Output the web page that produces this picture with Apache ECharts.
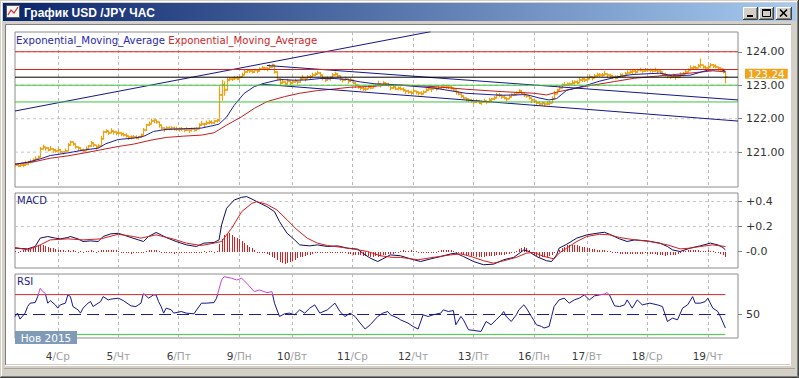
<!DOCTYPE html>
<html><head><meta charset="utf-8">
<script src="https://cdn.jsdelivr.net/npm/echarts@6/dist/echarts.min.js"></script>
<style>html,body{margin:0;padding:0;background:#ffffff;}#c{width:799px;height:378px;}</style>
</head><body><div id="c"></div>
<script>
const windowTitle = 'График USD /JPY ЧАС';
const emaLegend = ['Exponential_Moving_Average', 'Exponential_Moving_Average'];
const macdTitle = 'MACD';
const rsiTitle = 'RSI';
const monthLabel = 'Нов 2015';
const dayLabels = ['4/Ср','5/Чт','6/Пт','9/Пн','10/Вт','11/Ср','12/Чт','13/Пт','16/Пн','17/Вт','18/Ср','19/Чт'];
const dayStarts = [17,41,65,89,110,134,158,182,206,227,251,275];
const barSlots = 288;
const priceTicks = [121,122,123,124];
const macdTicks = [0,0.2,0.4];
const macdTickLabels = ['-0.0','+0.2','+0.4'];
const rsiTicks = [50];
const rsiOver = 70, rsiMid = 50, rsiUnder = 30;
const firstOpen = 120.64;

const priceClose = [120.62,120.60,120.63,120.61,120.66,120.70,120.72,120.76,120.80,120.86,
121.10,121.15,121.12,121.08,121.10,121.06,121.04,121.08,121.02,121.00,
121.05,121.20,121.30,121.25,121.15,121.12,121.08,121.05,121.10,121.18,
121.28,121.20,121.15,121.18,121.40,121.60,121.62,121.58,121.64,121.60,
121.57,121.58,121.55,121.52,121.48,121.45,121.44,121.46,121.43,121.45,
121.50,121.65,121.80,121.85,121.92,121.95,121.90,121.80,121.72,121.68,
121.72,121.70,121.73,121.70,121.68,121.70,121.69,121.66,121.67,121.65,
121.68,121.66,121.70,121.80,121.85,121.83,121.88,121.90,121.88,121.92,
121.95,122.70,123.00,122.85,123.15,123.20,123.18,123.22,123.20,123.25,
123.32,123.40,123.45,123.42,123.40,123.45,123.42,123.48,123.50,123.52,
123.48,123.55,123.60,123.40,123.20,123.08,123.10,123.05,123.12,123.08,
123.10,123.12,123.10,123.18,123.22,123.20,123.24,123.25,123.30,123.35,
123.38,123.30,123.22,123.15,123.18,123.22,123.30,123.35,123.28,123.20,
123.15,123.18,123.12,123.15,123.08,123.00,122.95,122.92,122.88,122.90,
122.95,122.93,122.98,123.00,123.05,123.02,123.06,123.04,123.00,122.92,
122.95,122.90,122.92,122.90,122.85,122.82,122.80,122.78,122.82,122.80,
122.76,122.74,122.80,122.85,122.90,122.88,122.92,122.90,122.93,122.95,
122.97,122.94,122.96,122.92,122.85,122.80,122.75,122.68,122.62,122.58,
122.55,122.52,122.50,122.52,122.48,122.50,122.53,122.50,122.55,122.58,
122.62,122.70,122.72,122.65,122.62,122.60,122.65,122.70,122.72,122.78,
122.82,122.78,122.72,122.68,122.62,122.55,122.52,122.48,122.45,122.47,
122.43,122.45,122.48,122.60,122.75,122.85,122.92,123.00,123.02,123.05,
123.03,123.08,123.10,123.08,123.15,123.18,123.15,123.20,123.25,123.22,
123.28,123.30,123.32,123.30,123.34,123.30,123.28,123.25,123.22,123.26,
123.30,123.28,123.35,123.38,123.40,123.42,123.40,123.44,123.45,123.43,
123.46,123.44,123.45,123.43,123.44,123.42,123.40,123.35,123.30,123.28,
123.25,123.27,123.24,123.26,123.30,123.35,123.40,123.45,123.52,123.55,
123.52,123.56,123.60,123.55,123.50,123.55,123.60,123.58,123.55,123.50,
123.48,123.40,123.24];

const priceHigh = [120.66,120.66,120.66,120.66,120.73,120.73,120.77,120.80,120.86,120.88,
121.14,121.21,121.15,121.13,121.17,121.09,121.09,121.12,121.08,121.02,
121.09,121.26,121.33,121.30,121.22,121.15,121.13,121.09,121.16,121.20,
121.32,121.26,121.18,121.23,121.47,121.63,121.67,121.62,121.70,121.62,
121.61,121.64,121.58,121.57,121.55,121.48,121.49,121.50,121.49,121.47,
121.54,121.71,121.83,121.90,121.99,121.98,121.95,121.84,121.78,121.70,
121.76,121.76,121.76,121.75,121.75,121.73,121.74,121.70,121.73,121.67,
121.72,121.72,121.73,121.85,121.92,121.86,121.93,121.94,121.94,121.94,
121.99,122.95,123.15,123.10,123.22,123.23,123.23,123.26,123.26,123.27,
123.36,123.46,123.48,123.47,123.47,123.48,123.47,123.52,123.56,123.54,
123.52,123.61,123.63,123.45,123.27,123.11,123.15,123.09,123.18,123.10,
123.14,123.18,123.13,123.23,123.29,123.23,123.29,123.29,123.36,123.37,
123.42,123.36,123.25,123.20,123.25,123.25,123.35,123.39,123.34,123.22,
123.19,123.24,123.15,123.20,123.15,123.03,123.00,122.96,122.94,122.92,
122.99,122.99,123.01,123.05,123.12,123.05,123.11,123.08,123.06,122.94,
122.99,122.96,122.95,122.95,122.92,122.85,122.85,122.82,122.88,122.82,
122.80,122.80,122.83,122.90,122.97,122.91,122.97,122.94,122.99,122.97,
123.01,123.00,122.99,122.97,122.92,122.83,122.80,122.72,122.68,122.60,
122.59,122.58,122.53,122.57,122.55,122.53,122.58,122.54,122.61,122.60,
122.66,122.76,122.75,122.70,122.69,122.63,122.70,122.74,122.78,122.80,
122.86,122.84,122.75,122.73,122.69,122.58,122.57,122.52,122.51,122.49,
122.47,122.51,122.51,122.65,122.82,122.88,122.97,123.04,123.08,123.07,
123.07,123.14,123.13,123.13,123.22,123.21,123.20,123.24,123.31,123.24,
123.32,123.36,123.35,123.35,123.41,123.33,123.33,123.29,123.28,123.28,
123.34,123.34,123.38,123.43,123.47,123.45,123.45,123.48,123.51,123.45,
123.50,123.50,123.48,123.48,123.51,123.45,123.45,123.39,123.36,123.30,
123.29,123.33,123.27,123.31,123.37,123.38,123.45,123.49,123.58,123.57,
123.56,123.62,123.78,123.60,123.57,123.58,123.65,123.62,123.61,123.52,
123.52,123.46,123.27];

const priceLow = [120.57,120.57,120.57,120.57,120.63,120.63,120.68,120.71,120.77,120.80,
121.05,121.12,121.06,121.04,121.07,120.99,121.00,121.03,120.99,120.94,
121.00,121.17,121.24,121.21,121.12,121.05,121.04,121.00,121.07,121.12,
121.23,121.17,121.09,121.14,121.37,121.53,121.58,121.53,121.61,121.54,
121.52,121.55,121.49,121.48,121.45,121.38,121.40,121.41,121.40,121.39,
121.45,121.62,121.74,121.81,121.89,121.88,121.86,121.75,121.69,121.62,
121.67,121.67,121.67,121.66,121.65,121.63,121.65,121.61,121.64,121.59,
121.63,121.63,121.64,121.76,121.82,121.76,121.84,121.85,121.85,121.86,
121.90,121.92,122.55,122.70,123.12,123.13,123.14,123.17,123.17,123.19,
123.27,123.37,123.39,123.38,123.37,123.38,123.38,123.43,123.47,123.46,
123.43,123.52,123.54,123.36,123.17,123.01,123.06,123.00,123.09,123.02,
123.05,123.09,123.04,123.14,123.19,123.13,123.20,123.20,123.27,123.29,
123.33,123.27,123.16,123.11,123.15,123.15,123.26,123.30,123.25,123.14,
123.10,123.15,123.06,123.11,123.05,122.93,122.91,122.87,122.85,122.84,
122.90,122.90,122.92,122.96,123.02,122.95,123.02,122.99,122.97,122.86,
122.90,122.87,122.86,122.86,122.82,122.75,122.76,122.73,122.79,122.74,
122.71,122.71,122.74,122.81,122.87,122.81,122.88,122.85,122.90,122.89,
122.92,122.91,122.90,122.88,122.82,122.73,122.71,122.63,122.59,122.52,
122.50,122.49,122.44,122.48,122.45,122.43,122.49,122.45,122.52,122.52,
122.57,122.67,122.66,122.61,122.59,122.53,122.61,122.65,122.69,122.72,
122.77,122.75,122.66,122.64,122.59,122.48,122.48,122.43,122.42,122.41,
122.38,122.42,122.42,122.56,122.72,122.78,122.88,122.95,122.99,122.99,
122.98,123.05,123.04,123.04,123.12,123.11,123.11,123.15,123.22,123.16,
123.23,123.27,123.26,123.26,123.31,123.23,123.24,123.20,123.19,123.20,
123.25,123.25,123.29,123.34,123.37,123.35,123.36,123.39,123.42,123.37,
123.41,123.41,123.39,123.39,123.41,123.35,123.36,123.30,123.27,123.22,
123.20,123.24,123.18,123.22,123.27,123.28,123.36,123.40,123.49,123.49,
123.47,123.53,123.54,123.51,123.47,123.48,123.56,123.53,123.52,123.44,
123.43,123.37,123.07];

const emaFast = [[0,120.64],[5,120.70],[10,120.80],[14,120.90],[21,120.98],[27,121.06],[33,121.12],[36,121.25],[41,121.38],[47,121.42],[51,121.47],[55,121.62],[60,121.68],[67,121.70],[74,121.72],[79,121.80],[81,121.84],[84,122.05],[87,122.40],[91,122.76],[95,122.96],[99,123.06],[104,123.15],[106,123.17],[111,123.15],[116,123.16],[121,123.20],[127,123.20],[132,123.17],[137,123.10],[143,123.04],[148,123.03],[153,123.00],[166,122.92],[179,122.76],[193,122.70],[203,122.72],[208,122.62],[212,122.56],[215,122.60],[219,122.85],[226,122.98],[232,123.12],[239,123.25],[245,123.32],[256,123.36],[261,123.28],[268,123.30],[275,123.45],[280,123.47],[282,123.42]];

const emaSlow = [[0,120.64],[8,120.72],[14,120.82],[21,120.89],[27,120.97],[34,121.07],[41,121.17],[47,121.24],[54,121.36],[60,121.44],[67,121.48],[74,121.51],[79,121.58],[84,121.81],[90,122.06],[95,122.31],[100,122.51],[107,122.66],[113,122.76],[120,122.84],[127,122.89],[133,122.94],[140,122.96],[146,122.99],[153,123.01],[166,122.96],[179,122.88],[193,122.81],[206,122.76],[211,122.71],[216,122.81],[226,122.96],[238,123.11],[246,123.21],[259,123.30],[269,123.37],[277,123.43],[282,123.40]];

const trendUp = [[0,122.23],[165,124.60]];
const channelTop = [[100,123.59],[287,122.56]];
const channelBottom = [[98,123.03],[287,121.93]];
const redLevels = [124.00, 123.47];
const greenLevels = [123.00, 122.50];

const macdHist = [0.008,-0.008,0.008,0.01,0.01,0.015,
0.02,0.03,0.04,0.045,0.05,0.05,0.045,0.04,0.03,0.025,
0.02,0.015,0.012,0.01,0.008,0.01,
0.008,0.01,0.008,-0.008,0.008,-0.008,0.008,0.008,0.01,0.008,-0.008,0.008,
0.01,0.015,0.015,0.012,0.015,0.012,0.01,0.008,
-0.008,-0.012,-0.015,-0.015,-0.018,-0.015,-0.015,-0.012,-0.01,-0.008,
0.008,0.012,0.015,0.015,0.01,0.008,
-0.008,-0.012,-0.015,-0.015,-0.015,-0.018,-0.015,-0.015,-0.012,-0.015,-0.015,-0.012,-0.012,-0.01,-0.01,-0.008,-0.008,
0.008,-0.008,0.008,0.008,-0.008,0.008,
0.06,0.10,0.13,0.15,0.145,0.13,0.12,0.11,0.10,0.085,0.07,0.055,0.04,0.025,
0.01,-0.008,-0.01,-0.012,-0.015,-0.02,
-0.03,-0.04,-0.05,-0.065,-0.08,-0.09,-0.10,-0.095,-0.085,-0.075,-0.065,-0.055,-0.045,-0.04,-0.035,-0.03,-0.025,
-0.02,-0.015,-0.012,-0.01,-0.01,-0.012,-0.01,-0.008,-0.01,-0.012,-0.01,-0.012,-0.015,-0.015,
-0.018,-0.02,-0.025,-0.028,-0.03,-0.03,-0.032,-0.035,-0.035,-0.04,-0.04,-0.038,-0.04,-0.035,
-0.03,-0.025,-0.022,-0.02,-0.018,-0.015,-0.01,
0.008,0.01,0.008,0.008,0.01,0.008,0.008,-0.008,
-0.01,-0.012,-0.012,-0.01,-0.01,-0.008,-0.008,0.008,
0.01,0.012,0.012,0.01,0.01,0.008,
-0.01,-0.015,-0.02,-0.025,-0.028,-0.03,-0.035,-0.038,-0.04,-0.042,-0.04,-0.04,-0.038,-0.035,-0.035,-0.032,-0.03,-0.03,-0.028,-0.025,-0.022,-0.02,-0.015,-0.01,
0.008,0.02,0.03,0.035,0.025,0.01,
-0.015,-0.025,-0.035,-0.04,-0.045,-0.045,-0.04,-0.035,-0.025,-0.015,-0.008,
0.015,0.03,0.04,0.05,0.055,0.055,0.05,0.05,0.045,0.04,0.035,0.03,
0.025,0.02,0.018,0.015,0.012,0.01,0.01,0.008,0.008,
-0.008,-0.012,-0.015,-0.018,-0.02,-0.02,-0.018,-0.02,-0.02,-0.018,-0.02,-0.02,-0.018,-0.015,-0.018,-0.02,-0.02,-0.022,-0.025,
-0.028,-0.03,-0.032,-0.03,-0.03,-0.028,-0.025,-0.02,-0.012,
0.008,0.008,0.01,0.01,0.012,0.01,0.01,0.008,0.008,0.008,0.01,0.008,0.008,-0.008,
-0.012,-0.02,-0.03,-0.045];

const macdLine = [[0,0.027],[5,0.021],[8,0.040],[10,0.107],[13,0.120],[16,0.107],[18,0.101],[21,0.112],[22,0.120],[25,0.101],[27,0.080],[30,0.085],[33,0.080],[35,0.120],[38,0.141],[41,0.146],[43,0.133],[46,0.112],[49,0.093],[51,0.080],[53,0.120],[56,0.152],[58,0.133],[60,0.112],[64,0.080],[68,0.053],[72,0.040],[75,0.067],[79,0.072],[81,0.093],[82,0.213],[84,0.346],[87,0.412],[90,0.434],[92,0.439],[94,0.420],[96,0.399],[100,0.359],[103,0.319],[105,0.239],[108,0.146],[111,0.093],[113,0.053],[117,0.045],[120,0.053],[124,0.040],[128,0.045],[132,0.027],[136,0.019],[138,-0.013],[141,-0.053],[144,-0.080],[146,-0.059],[149,-0.027],[153,-0.034],[157,-0.059],[161,-0.080],[165,-0.059],[169,-0.040],[173,-0.019],[175,-0.013],[178,-0.040],[182,-0.080],[186,-0.106],[190,-0.101],[194,-0.066],[198,-0.047],[202,0.013],[204,0.000],[207,-0.040],[211,-0.074],[213,-0.080],[215,-0.027],[216,0.027],[219,0.058],[223,0.107],[227,0.133],[231,0.146],[234,0.154],[236,0.138],[240,0.101],[243,0.080],[246,0.093],[251,0.085],[256,0.067],[259,0.040],[261,0.013],[264,0.000],[268,0.027],[272,0.045],[276,0.067],[279,0.053],[281,0.032],[282,0.013]];

const macdSignal = [[0,0.032],[5,0.013],[10,0.053],[14,0.093],[21,0.101],[27,0.093],[34,0.101],[41,0.138],[47,0.120],[50,0.107],[56,0.133],[63,0.099],[68,0.067],[74,0.048],[79,0.067],[82,0.080],[86,0.186],[90,0.319],[94,0.385],[96,0.399],[100,0.377],[104,0.332],[108,0.253],[112,0.173],[116,0.107],[120,0.067],[124,0.048],[129,0.035],[134,0.021],[140,0.000],[145,-0.034],[150,-0.047],[153,-0.047],[160,-0.066],[166,-0.047],[173,-0.027],[177,-0.019],[181,-0.040],[186,-0.074],[190,-0.093],[194,-0.074],[199,-0.047],[203,-0.013],[206,-0.007],[210,-0.040],[214,-0.059],[216,-0.013],[219,0.027],[223,0.080],[227,0.120],[232,0.138],[236,0.133],[240,0.112],[246,0.093],[252,0.080],[259,0.053],[264,0.021],[268,0.027],[272,0.040],[277,0.053],[282,0.040]];

const rsiLine = [[0,48.0],[1,51.4],[2,45.4],[4,51.4],[5,58.0],[6,61.4],[8,62.0],[9,68.0],[10,76.4],[11,73.0],[12,71.4],[13,61.4],[14,64.0],[16,59.7],[17,56.4],[18,59.7],[20,61.4],[21,69.7],[22,68.0],[23,58.0],[25,54.7],[26,51.4],[27,56.4],[29,61.4],[30,63.0],[31,58.0],[33,61.4],[34,63.0],[35,68.0],[37,64.7],[38,65.4],[41,66.4],[43,64.0],[46,58.7],[48,58.0],[50,61.4],[51,71.4],[53,66.4],[55,69.7],[56,69.7],[57,63.0],[58,58.0],[59,51.4],[60,56.4],[62,54.7],[63,51.4],[66,53.0],[68,51.4],[71,50.7],[74,61.4],[76,61.4],[79,62.0],[80,66.4],[82,84.7],[83,88.0],[86,86.4],[88,84.7],[90,86.4],[92,81.4],[95,73.0],[97,74.7],[100,72.0],[102,73.0],[103,61.4],[105,48.0],[107,50.7],[109,51.4],[111,49.7],[113,54.7],[115,51.4],[117,56.4],[119,59.7],[121,51.4],[124,54.7],[127,61.4],[129,53.0],[131,48.0],[133,51.4],[135,48.0],[137,41.4],[139,35.4],[141,39.7],[144,48.0],[146,51.4],[148,53.0],[149,49.7],[152,46.4],[153,44.7],[156,41.4],[158,38.0],[160,35.4],[162,49.7],[164,48.0],[166,49.7],[169,51.4],[170,54.7],[172,53.0],[174,54.0],[175,39.7],[177,48.0],[178,44.7],[180,34.7],[182,34.0],[185,33.0],[187,43.0],[189,39.7],[191,44.7],[193,49.7],[194,53.0],[195,48.0],[197,43.0],[199,49.7],[200,54.7],[202,59.7],[203,56.4],[205,48.0],[207,39.7],[209,38.0],[210,36.4],[212,38.0],[213,48.0],[214,58.0],[216,64.7],[218,66.4],[220,61.4],[222,64.7],[224,66.4],[226,69.7],[228,64.7],[230,68.7],[232,69.7],[234,70.7],[235,72.0],[236,69.7],[238,58.7],[240,58.0],[242,59.7],[243,64.7],[245,56.4],[247,64.7],[249,59.7],[252,61.4],[255,59.7],[257,58.0],[259,43.0],[261,46.4],[263,44.7],[265,56.4],[267,59.7],[269,68.0],[270,61.4],[272,61.4],[274,63.0],[275,66.4],[277,56.4],[279,53.0],[280,48.0],[282,36.4]];

// ---------- build ----------
const FONT = 'DejaVu Sans';
const RSI_NAVY = '#14148e', RSI_HOT = '#d23cd2';
const cats = Array.from({length: barSlots}, (_, i) => String(i));
const lastIdx = priceClose.length - 1;
const lastClose = priceClose[lastIdx];
const endIdx = barSlots - 1;
const priceData = priceClose.map((c, i) => [i, priceHigh[i], priceLow[i], i === 0 ? firstOpen : priceClose[i - 1], c]);
const histData = macdHist.map((v, i) => [i, v]);

const chart = echarts.init(document.getElementById('c'), null, {renderer: 'svg', width: 799, height: 378});

const grids = [
  {left: 15, top: 32, width: 723, height: 155},
  {left: 15, top: 193, width: 723, height: 75},
  {left: 15, top: 274, width: 723, height: 64}
].map(g => Object.assign(g, {show: true, borderColor: '#8c8c8c', borderWidth: 1, backgroundColor: 'transparent'}));

function xAx(g, withLabels) {
  return {
    type: 'category', gridIndex: g, data: cats, boundaryGap: false,
    axisLine: {show: false}, axisTick: {show: false},
    splitLine: {show: true, interval: (idx) => dayStarts.includes(idx), lineStyle: {color: '#b9b9b9', type: [3, 3], width: 1}},
    axisLabel: withLabels ? {
      show: true, interval: (idx) => dayStarts.includes(idx), margin: 12, hideOverlap: false,
      formatter: (val, idx) => {
        const k = dayStarts.indexOf(idx);
        if (k < 0) return '';
        const p = dayLabels[k].split('/');
        return '{d|' + p[0] + '}{w|/' + p[1] + '}';
      },
      rich: {d: {color: '#3a3a3a', fontSize: 10.5, fontFamily: FONT}, w: {color: '#a0a0a0', fontSize: 10.5, fontFamily: FONT}}
    } : {show: false}
  };
}
function yAx(g, min, max, ticks, fmt) {
  return {
    type: 'value', gridIndex: g, position: 'right', min: min, max: max,
    axisLine: {show: false}, splitLine: {show: false},
    axisTick: {show: true, customValues: ticks, length: 4, lineStyle: {color: '#808080'}},
    axisLabel: {show: true, customValues: ticks, formatter: fmt, color: '#333333', fontSize: 11, lineHeight: 9,
      padding: [4, 0, 0, 0], fontFamily: FONT, margin: 8}
  };
}
function hline(xi, yi, y0, color, type, from, to, extra) {
  return Object.assign({
    type: 'line', xAxisIndex: xi, yAxisIndex: yi, data: [[from, y0], [to, y0]],
    symbol: 'none', silent: true, animation: false,
    lineStyle: {color: color, width: 1, type: type}
  }, extra || {});
}
function pline(xi, yi, data, color, extra) {
  return Object.assign({
    type: 'line', xAxisIndex: xi, yAxisIndex: yi, data: data,
    symbol: 'none', silent: true, animation: false,
    lineStyle: {color: color, width: 1}
  }, extra || {});
}

const series = [];
priceTicks.forEach(v => series.push(hline(0, 0, v, '#c6c6c6', [3, 3], 0, endIdx)));
series.push({
  type: 'custom', xAxisIndex: 0, yAxisIndex: 0, data: priceData, clip: true, silent: true, animation: false,
  encode: {x: 0, y: [1, 2]},
  renderItem: function (params, api) {
    const i = api.value(0), hi = api.value(1), lo = api.value(2), op = api.value(3), cl = api.value(4);
    let x = api.coord([i, cl])[0];
    x = Math.round(x) + 0.5;
    const yH = api.coord([i, Math.max(hi, op, cl)])[1] - 0.5;
    const yL = api.coord([i, Math.min(lo, op, cl)])[1] + 0.5;
    const yO = Math.round(api.coord([i, op])[1]);
    const yC = Math.round(api.coord([i, cl])[1]);
    const col = '#f0a010';
    return {type: 'group', children: [
      {type: 'line', shape: {x1: x, y1: yH, x2: x, y2: yL}, style: {stroke: col, lineWidth: 1.2}},
      {type: 'line', shape: {x1: x - 1.8, y1: yO, x2: x, y2: yO}, style: {stroke: col, lineWidth: 1.6}},
      {type: 'line', shape: {x1: x, y1: yC, x2: x + 1.8, y2: yC}, style: {stroke: col, lineWidth: 1.6}}
    ]};
  }
});
series.push(pline(0, 0, emaSlow, '#c41e1e'));
series.push(pline(0, 0, emaFast, '#1e1ea6'));
series.push(pline(0, 0, trendUp, '#16168c'));
series.push(pline(0, 0, channelTop, '#16168c'));
series.push(pline(0, 0, channelBottom, '#16168c'));
redLevels.forEach(v => series.push(hline(0, 0, v, '#d02424', 'solid', 0, endIdx)));
greenLevels.forEach(v => series.push(hline(0, 0, v, '#3cc43c', 'solid', 0, endIdx)));
series.push(hline(0, 0, lastClose, '#000000', 'solid', 0, endIdx, {
  endLabel: {show: true, formatter: () => lastClose.toFixed(2), color: '#ffffff', backgroundColor: '#f0a41c',
    padding: [0, 3, 0, 3], lineHeight: 10, fontSize: 10.5, fontFamily: FONT, distance: 7, offset: [0, -3.5]}
}));

// MACD
[0.2, 0.4].forEach(v => series.push(hline(1, 1, v, '#c6c6c6', [3, 3], 0, endIdx)));
series.push({
  type: 'custom', xAxisIndex: 1, yAxisIndex: 1, data: histData, clip: true, silent: true, animation: false,
  encode: {x: 0, y: 1},
  renderItem: function (params, api) {
    const i = api.value(0), v = api.value(1);
    const p = api.coord([i, v]);
    const x = Math.round(p[0]) + 0.5;
    const y0 = Math.round(api.coord([i, 0])[1]);
    let y1 = Math.round(p[1]);
    if (y1 === y0) y1 = v >= 0 ? y0 - 1 : y0 + 1;
    return {type: 'line', shape: {x1: x, y1: y0, x2: x, y2: y1}, style: {stroke: '#dc2020', lineWidth: 1}};
  }
});
series.push(pline(1, 1, macdLine, '#0c0c5c'));
series.push(pline(1, 1, macdSignal, '#d81c1c'));

// RSI
series.push(hline(2, 2, rsiOver, '#cc2a2a', 'solid', 0, lastIdx));
series.push(hline(2, 2, rsiUnder, '#3cd03c', 'solid', 0, lastIdx));
series.push(hline(2, 2, rsiMid, '#1c1c9c', [12, 6], 0, lastIdx));
const rsiSeriesIndex = series.length;
series.push(pline(2, 2, rsiLine, RSI_NAVY));

function bevelButton(x, w, glyph) {
  return [
    {type: 'rect', shape: {x: x, y: 7, width: w, height: 13}, style: {fill: '#d4d0c8'}},
    {type: 'polyline', shape: {points: [[x + 0.5, 20], [x + 0.5, 7.5], [x + w, 7.5]]}, style: {stroke: '#ffffff', fill: null}},
    {type: 'polyline', shape: {points: [[x, 19.5], [x + w - 0.5, 19.5], [x + w - 0.5, 7]]}, style: {stroke: '#404040', fill: null}},
    {type: 'polyline', shape: {points: [[x + 1, 18.5], [x + w - 1.5, 18.5], [x + w - 1.5, 8]]}, style: {stroke: '#808080', fill: null}}
  ].concat(glyph);
}

const chrome = [
  {type: 'rect', shape: {x: 0, y: 0, width: 799, height: 25}, style: {fill: '#d4d0c8'}},
  {type: 'rect', shape: {x: 0, y: 0, width: 6, height: 378}, style: {fill: '#d4d0c8'}},
  {type: 'rect', shape: {x: 790, y: 0, width: 9, height: 378}, style: {fill: '#d4d0c8'}},
  {type: 'rect', shape: {x: 0, y: 364, width: 799, height: 14}, style: {fill: '#d4d0c8'}},
  {type: 'polyline', shape: {points: [[1.5, 376], [1.5, 1.5], [797, 1.5]]}, style: {stroke: '#ffffff', fill: null}},
  {type: 'polyline', shape: {points: [[0, 377.5], [798.5, 377.5], [798.5, 0]]}, style: {stroke: '#404040', fill: null}},
  {type: 'polyline', shape: {points: [[1, 376.5], [797.5, 376.5], [797.5, 1]]}, style: {stroke: '#808080', fill: null}},
  {type: 'rect', shape: {x: 3, y: 3, width: 793, height: 18}, style: {fill: {type: 'linear', x: 0, y: 0, x2: 1, y2: 0,
    colorStops: [{offset: 0, color: '#0a246a'}, {offset: 1, color: '#a6caf0'}]}}},
  {type: 'polyline', shape: {points: [[5.5, 365], [5.5, 24.5], [791, 24.5]]}, style: {stroke: '#808080', fill: null}},
  {type: 'polyline', shape: {points: [[5, 365.5], [790.5, 365.5], [790.5, 25]]}, style: {stroke: '#ffffff', fill: null}},
  {type: 'line', shape: {x1: 4, y1: 368.5, x2: 795, y2: 368.5}, style: {stroke: '#a8a49c'}},
  {type: 'rect', shape: {x: 6.5, y: 5.5, width: 13, height: 12}, style: {fill: '#f6f6f6', stroke: '#5a5a5a'}},
  {type: 'polyline', shape: {points: [[8, 15], [11, 10], [14, 13], [18, 7]]}, style: {stroke: '#d03030', fill: null, lineWidth: 1.2}},
  {type: 'text', style: {text: windowTitle, x: 24, y: 12.5, fill: '#ffffff', fontSize: 12, fontWeight: 'bold', fontFamily: 'Liberation Sans', verticalAlign: 'middle'}}
].concat(
  bevelButton(743, 15, [{type: 'rect', shape: {x: 747, y: 15, width: 6, height: 2}, style: {fill: '#000'}}]),
  bevelButton(759, 15, [
    {type: 'rect', shape: {x: 762.5, y: 9.5, width: 8, height: 7}, style: {fill: null, stroke: '#000'}},
    {type: 'rect', shape: {x: 762, y: 9, width: 9, height: 2}, style: {fill: '#000'}}
  ]),
  bevelButton(776, 16, [
    {type: 'line', shape: {x1: 780, y1: 9.5, x2: 787, y2: 16.5}, style: {stroke: '#000', lineWidth: 1.6}},
    {type: 'line', shape: {x1: 787, y1: 9.5, x2: 780, y2: 16.5}, style: {stroke: '#000', lineWidth: 1.6}}
  ]),
  [{type: 'group', z: 50, children: [
    {type: 'rect', shape: {x: 15, y: 331, width: 62, height: 13}, style: {fill: '#7f9bb8'}, z: 50},
    {type: 'text', style: {text: monthLabel, x: 46, y: 337.5, fill: '#ffffff', fontSize: 10.5, fontFamily: FONT, align: 'center', verticalAlign: 'middle'}, z: 51}
  ]}]
);

chart.setOption({
  backgroundColor: '#ffffff',
  animation: false,
  title: [
    {text: '{b|' + emaLegend[0] + '} {r|' + emaLegend[1] + '}', left: 16, top: 35, padding: 0,
      textStyle: {fontSize: 10, fontWeight: 'normal', fontFamily: FONT,
        rich: {b: {color: '#2828b4', fontSize: 10.2, fontFamily: FONT}, r: {color: '#d02828', fontSize: 10.2, fontFamily: FONT}}}},
    {text: macdTitle, left: 17, top: 195, padding: 0, textStyle: {fontSize: 10, fontWeight: 'normal', color: '#1c1c80', fontFamily: FONT}},
    {text: rsiTitle, left: 17, top: 276, padding: 0, textStyle: {fontSize: 10, fontWeight: 'normal', color: '#1c1c80', fontFamily: FONT}}
  ],
  grid: grids,
  xAxis: [xAx(0, false), xAx(1, false), xAx(2, true)],
  yAxis: [
    yAx(0, 119.96, 124.59, priceTicks, v => v.toFixed(2)),
    yAx(1, -0.132, 0.468, macdTicks, v => {
      const k = macdTicks.findIndex(t => Math.abs(t - v) < 1e-6);
      return k >= 0 ? macdTickLabels[k] : '';
    }),
    yAx(2, 26.4, 90.7, rsiTicks, v => String(Math.round(v)))
  ],
  graphic: {elements: chrome},
  series: series
});

// colour the RSI line magenta above the overbought level, via the axis scale
const yTopPx = chart.convertToPixel({xAxisIndex: 2, yAxisIndex: 2}, [0, 90.7])[1];
const yBotPx = chart.convertToPixel({xAxisIndex: 2, yAxisIndex: 2}, [0, 26.4])[1];
const yOverPx = chart.convertToPixel({xAxisIndex: 2, yAxisIndex: 2}, [0, rsiOver])[1];
const f = (yOverPx - yTopPx) / (yBotPx - yTopPx);
const rsiSeriesOpt = series.slice();
rsiSeriesOpt[rsiSeriesIndex] = pline(2, 2, rsiLine, {
  type: 'linear', global: true, x: 0, y: yTopPx, x2: 0, y2: yBotPx,
  colorStops: [{offset: 0, color: RSI_HOT}, {offset: f, color: RSI_HOT}, {offset: f, color: RSI_NAVY}, {offset: 1, color: RSI_NAVY}]
});
chart.setOption({series: rsiSeriesOpt});
</script>
</body></html>
